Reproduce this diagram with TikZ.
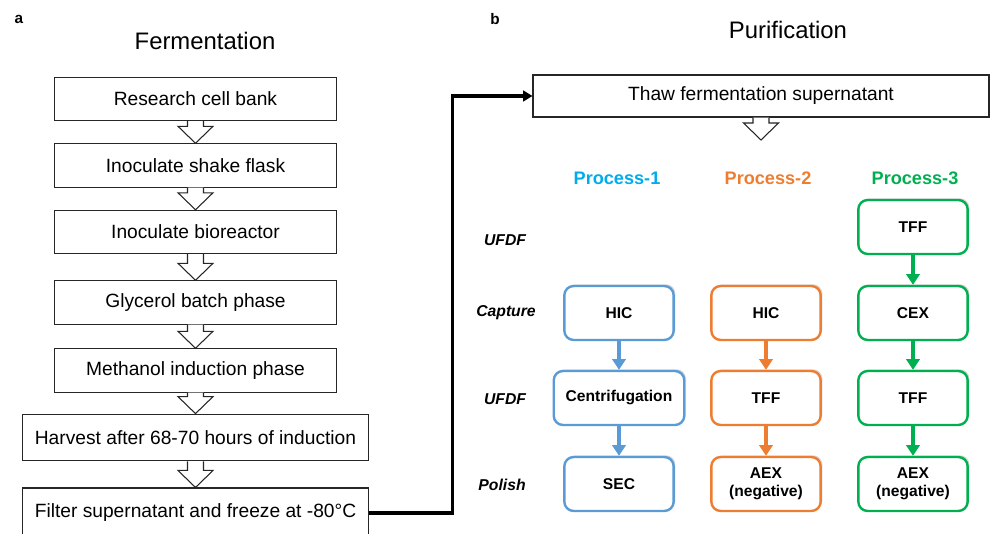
\documentclass[tikz,border=0pt]{standalone}
\usepackage{fontspec}
\setmainfont{Liberation Sans}
\usetikzlibrary{arrows.meta,calc,shadows}

\definecolor{pblue}{RGB}{91,155,213}
\definecolor{plblue}{RGB}{0,172,236}
\definecolor{porange}{RGB}{237,125,49}
\definecolor{pgreen}{RGB}{0,176,80}

\tikzset{
  stepbox/.style={draw=black!85,line width=0.8pt,fill=white,minimum width=212pt,minimum height=32.5pt,inner sep=2pt,font=\fontsize{14.4}{17}\selectfont},
  widebox/.style={stepbox,minimum width=260pt},
  procbox/.style={draw=#1,line width=1.8pt,rounded corners=7pt,fill=white,minimum width=82pt,minimum height=40.5pt,inner xsep=9pt,align=center,font=\fontsize{11.7}{13.7}\selectfont\bfseries,drop shadow={shadow xshift=1.3pt,shadow yshift=1.3pt,opacity=0.3}},
  proclabel/.style={text=#1,font=\fontsize{13.6}{16}\selectfont\bfseries},
  rowlabel/.style={font=\fontsize{11.8}{14}\selectfont\bfseries\itshape},
  procarrow/.style={draw=#1,line width=2.8pt,-{Triangle[width=10pt,length=8pt]}}
}

% hollow block arrow between two steps
\newcommand{\hollowarrow}[2]{%
  \draw[line width=0.8pt,draw=black!85,fill=white,line join=miter]
    ($#1+(-8,0)$) -- ($#2+(-8,-17)$) -- ($#2+(-17.5,-17)$) -- #2 -- ($#2+(17.5,-17)$) -- ($#2+(8,-17)$) -- ($#1+(8,0)$);}

\begin{document}
\begin{tikzpicture}[x=0.75pt,y=0.75pt,yscale=-1,xscale=1]
\useasboundingbox (0,0) rectangle (990,534);

% Text Node
\node[font=\fontsize{11.5}{13}\selectfont\bfseries] (laba) at (19,19) {a};
% Text Node
\node[font=\fontsize{11.5}{13}\selectfont\bfseries] (labb) at (495,19) {b};
% Text Node
\node[font=\fontsize{17.9}{21}\selectfont] (fermtitle) at (205,41) {Fermentation};
% Text Node
\node[font=\fontsize{17.9}{21}\selectfont] (puritle) at (788,30) {Purification};

%Shape: Rectangle (fermentation steps)
\node[stepbox] (bank) at (195.5,99) {Research cell bank};
\node[stepbox] (flask) at (195.5,165.5) {Inoculate shake flask};
\node[stepbox] (reactor) at (195.5,232) {Inoculate bioreactor};
\node[stepbox] (glycerol) at (195.5,302.5) {Glycerol batch phase};
\node[stepbox] (methanol) at (195.5,370.5) {Methanol induction phase};
\node[widebox,minimum height=35pt] (harvest) at (195.5,437.5) {Harvest after 68-70 hours of induction};
\node[widebox,minimum height=37.5pt] (filter) at (195.5,513) {Filter supernatant and freeze at -80°C};

%Shape: Block Arrows
\hollowarrow{(bank.south)}{(flask.north)}
\hollowarrow{(flask.south)}{(reactor.north)}
\hollowarrow{(reactor.south)}{(glycerol.north)}
\hollowarrow{(glycerol.south)}{(methanol.north)}
\hollowarrow{(methanol.south)}{(harvest.north)}
\hollowarrow{(harvest.south)}{(filter.north)}

%Shape: Rectangle (purification start)
\node[stepbox,minimum width=342pt,minimum height=31.5pt] (thaw) at (761,96) {Thaw fermentation supernatant};
\coordinate (split) at (761,140);
\hollowarrow{(thaw.south)}{(split)}

%Straight Lines (fermentation to purification)
\draw[line width=2.3pt,-{Triangle[width=8pt,length=7pt]}] (filter.east) -- ++(83,0) |- (thaw.west);

% Text Node
\node[proclabel=plblue] (proca) at (617,178) {Process-1};
\node[proclabel=porange] (procb) at (768,178) {Process-2};
\node[proclabel=pgreen] (procc) at (915,178) {Process-3};

% Text Node
\node[rowlabel] (rowa) at (505,240) {UFDF};
\node[rowlabel] (rowb) at (506,313) {Capture};
\node[rowlabel] (rowc) at (505,399) {UFDF};
\node[rowlabel] (rowd) at (502,485) {Polish};

%Shape: Rounded Rectangle (process-1)
\node[procbox=pblue] (hica) at (619,313) {HIC};
\node[procbox=pblue] (centa) at (619,398) {Centrifugation};
\node[procbox=pblue] (seca) at (619,484) {SEC};
%Shape: Rounded Rectangle (process-2)
\node[procbox=porange] (hicb) at (766,313) {HIC};
\node[procbox=porange] (tffb) at (766,398) {TFF};
\node[procbox=porange] (aexb) at (766,484) {AEX\\(negative)};
%Shape: Rounded Rectangle (process-3)
\node[procbox=pgreen] (tffc) at (913,227) {TFF};
\node[procbox=pgreen] (cexc) at (913,313) {CEX};
\node[procbox=pgreen] (tffd) at (913,398) {TFF};
\node[procbox=pgreen] (aexc) at (913,484) {AEX\\(negative)};

%Straight Lines
\draw[procarrow=pblue] (hica.south) -- (centa.north);
\draw[procarrow=pblue] (centa.south) -- (seca.north);
\draw[procarrow=porange] (hicb.south) -- (tffb.north);
\draw[procarrow=porange] (tffb.south) -- (aexb.north);
\draw[procarrow=pgreen] (tffc.south) -- (cexc.north);
\draw[procarrow=pgreen] (cexc.south) -- (tffd.north);
\draw[procarrow=pgreen] (tffd.south) -- (aexc.north);

\end{tikzpicture}
\end{document}
